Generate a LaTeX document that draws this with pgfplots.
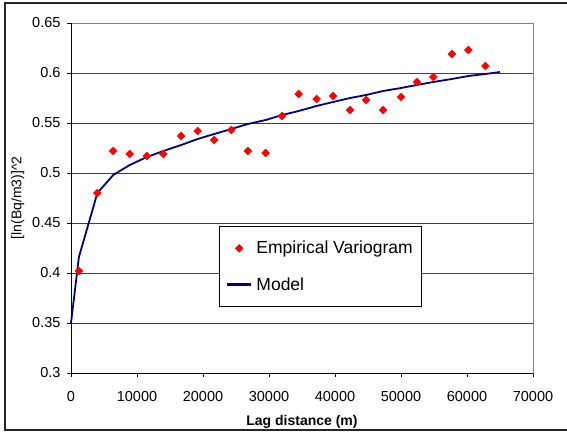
\documentclass[border=0pt]{standalone}
\usepackage{fontspec}
\setmainfont{Liberation Sans}
\usepackage{pgfplots}
\pgfplotsset{compat=1.18}

\definecolor{modelblue}{RGB}{0,0,128}

% legend samples: a short line, and one marker in the middle
\pgfplotsset{
    lineleg/.style={legend image code/.code={\draw[##1, line width=2.4pt] (3pt,0pt) -- (27pt,0pt);}},
    markleg/.style={legend image code/.code={\draw[##1, only marks] plot coordinates {(15pt,0pt)};}},
}

\begin{document}
\begin{tikzpicture}
% page frame, as in the spreadsheet chart (right side falls off the page)
\useasboundingbox (-71pt,-58pt) rectangle (496pt,373pt);
\draw[line width=1.2pt, black!85] (-66pt,-57pt) rectangle (505pt,370pt);

\begin{axis}[
    scale only axis,
    width=462pt,
    height=350pt,
    at={(0pt,0pt)},
    anchor=south west,
    xmin=0, xmax=70000,
    ymin=0.3, ymax=0.65,
    xtick={0,10000,...,70000},
    ytick={0.3,0.35,...,0.66},
    scaled x ticks=false,
    /pgf/number format/assume math mode=true,
    xticklabel style={yshift=-11pt, /pgf/number format/1000 sep={}},
    yticklabel style={xshift=-3pt, /pgf/number format/fixed, /pgf/number format/precision=2},
    ticklabel style={font=\fontsize{14.5}{16}\selectfont},
    tick align=outside,
    major tick length=4pt,
    tick style={black, line width=0.6pt},
    xtick pos=bottom,
    ytick pos=left,
    ymajorgrids=true,
    grid style={black!75, line width=0.6pt},
    axis line style={gray, line width=0.8pt},
    xlabel={\textbf{Lag distance (m)}},
    ylabel={[ln(Bq/m3)]\string^2},
    label style={font=\fontsize{14}{16}\selectfont},
    xlabel style={at={(axis description cs:0.5,-0.14)}, anchor=center},
    ylabel style={at={(axis description cs:-0.115,0.5)}, anchor=center},
    legend style={
        at={(axis description cs:0.32,0.42)},
        anchor=north west,
        draw=black,
        font=\fontsize{17.5}{19}\selectfont,
        inner xsep=7pt,
        inner ysep=13pt,
        row sep=18pt,
        cells={anchor=west},
        /tikz/every odd column/.append style={column sep=2pt},
    },
    legend cell align=left,
    reverse legend,
    clip=false,
]

% model curve
\addplot[modelblue, line width=1.8pt, mark=none, lineleg] coordinates {
    (0,0.350) (1200,0.416) (4000,0.480) (6400,0.498) (8900,0.508)
    (11500,0.516) (14000,0.522) (16700,0.528) (19200,0.534) (21700,0.539)
    (24300,0.544) (26800,0.549) (29500,0.553) (32000,0.558) (34500,0.562)
    (37200,0.567) (39700,0.571) (42300,0.575) (44700,0.578) (47300,0.582)
    (50000,0.585) (52400,0.588) (54900,0.591) (57700,0.594) (60200,0.597)
    (62800,0.599) (65000,0.601)
};
\addlegendentry{Model}

% empirical variogram
\addplot[only marks, mark=square*, mark size=2.8pt, red,
    mark options={fill=red, draw=red, rotate=45}, markleg] coordinates {
    (1200,0.402) (4000,0.480) (6400,0.522) (8900,0.519) (11500,0.517)
    (14000,0.519) (16700,0.537) (19200,0.542) (21700,0.533) (24300,0.543)
    (26800,0.522) (29500,0.520) (32000,0.557) (34500,0.579) (37200,0.574)
    (39700,0.577) (42300,0.563) (44700,0.573) (47300,0.563) (50000,0.576)
    (52400,0.591) (54900,0.596) (57700,0.619) (60200,0.623) (62800,0.607)
};
\addlegendentry{Empirical Variogram}

\end{axis}
% black left and bottom axis lines
\draw[black, line width=0.8pt] (0pt,350pt) -- (0pt,0pt) -- (462pt,0pt);
\end{tikzpicture}
\end{document}
